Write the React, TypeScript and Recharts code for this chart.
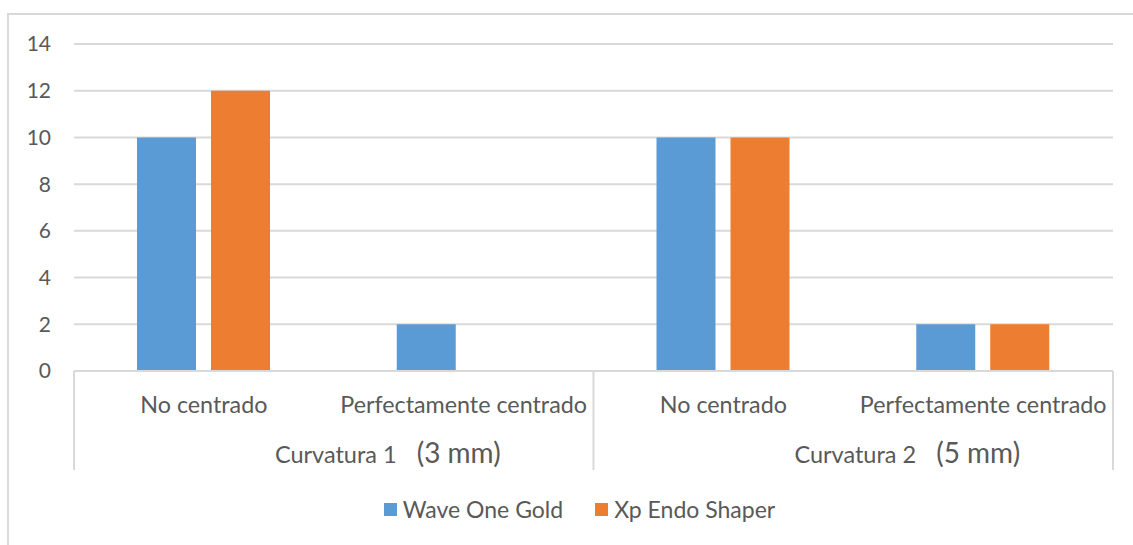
import React from 'react';
import { BarChart, Bar, XAxis, YAxis, CartesianGrid, Legend } from 'recharts';

const categories = ['No centrado', 'Perfectamente centrado', 'No centrado', 'Perfectamente centrado'];
const groupNames = ['Curvatura 1', 'Curvatura 2'];
const groupNotes = ['(3 mm)', '(5 mm)'];
const waveOneGold = [10, 2, 10, 2];
const xpEndoShaper = [12, 0, 10, 2];
const yTicks = [0, 2, 4, 6, 8, 10, 12, 14];

const seriesNames = ['Wave One Gold', 'Xp Endo Shaper'];
const COLORS = ['#5B9BD5', '#ED7D31'];

const W = 1133;
const H = 545;
const MARGIN = { top: 44, right: 20, left: 24, bottom: 21 };
const Y_WIDTH = 50;
const PLOT_W = W - MARGIN.left - MARGIN.right - Y_WIDTH;
const BAND = PLOT_W / categories.length;
const FONT = 'Lato, "Open Sans", sans-serif';
const TEXT = '#595959';
const GRID = '#d9d9d9';

const data = categories.map((c, i) => ({
  id: `c${i}`,
  cat: c,
  wave: waveOneGold[i],
  xp: xpEndoShaper[i],
}));

const CatTick = (props: any) => {
  const { x, y, index } = props;
  const g = Math.floor(index / 2);
  const first = index % 2 === 0;
  return (
    <g>
      <text x={x} y={y + 42} textAnchor="middle" fill={TEXT} fontSize={23.3} fontFamily={FONT}>
        {categories[index]}
      </text>
      {first && <line x1={x - BAND / 2} x2={x - BAND / 2} y1={y} y2={y + 99} stroke={GRID} strokeWidth={2} />}
      {index === categories.length - 1 && (
        <line x1={x + BAND / 2} x2={x + BAND / 2} y1={y} y2={y + 99} stroke={GRID} strokeWidth={2} />
      )}
      {first && (
        <text x={x + BAND / 2 + 54} y={y + 92} textAnchor="middle" fill={TEXT} fontFamily={FONT}>
          <tspan fontSize={23.5}>{groupNames[g]}</tspan>
          <tspan fontSize={28} dx={20}>{groupNotes[g]}</tspan>
        </text>
      )}
    </g>
  );
};

const LegendContent = () => (
  <div style={{ display: 'flex', justifyContent: 'center', alignItems: 'center', height: 30, paddingLeft: 26 }}>
    {seriesNames.map((n, i) => (
      <div key={n} style={{ display: 'flex', alignItems: 'center', marginRight: i === 0 ? 32 : 0 }}>
        <span style={{ width: 13, height: 13, background: COLORS[i], display: 'inline-block', marginRight: 6 }} />
        <span style={{ fontFamily: FONT, fontSize: 23, color: TEXT }}>{n}</span>
      </div>
    ))}
  </div>
);

export default function App() {
  return (
    <div style={{ position: 'absolute', left: 0, top: 0, width: W, height: H, background: '#fff', overflow: 'hidden' }}>
      <div
        style={{
          position: 'absolute',
          left: 7,
          top: 13,
          width: W + 20,
          height: H + 20,
          border: `2px solid ${GRID}`,
        }}
      />
      <div style={{ position: 'absolute', left: 0, top: 0 }}>
        <BarChart width={W} height={H} data={data} margin={MARGIN} barSize={59} barGap={15}>
          <CartesianGrid vertical={false} stroke={GRID} strokeWidth={2} />
          <XAxis
            dataKey="id"
            height={123}
            tick={<CatTick />}
            tickLine={false}
            tickSize={0}
            tickMargin={0}
            axisLine={{ stroke: GRID, strokeWidth: 2 }}
            interval={0}
          />
          <YAxis
            width={Y_WIDTH}
            domain={[0, 14]}
            ticks={yTicks}
            axisLine={false}
            tickLine={false}
            tickSize={0}
            tickMargin={23}
            tick={{ fill: TEXT, fontSize: 21, fontFamily: FONT }}
          />
          <Legend verticalAlign="bottom" content={<LegendContent />} wrapperStyle={{ left: 0, width: W }} />
          <Bar dataKey="wave" name={seriesNames[0]} fill={COLORS[0]} isAnimationActive={false} />
          <Bar dataKey="xp" name={seriesNames[1]} fill={COLORS[1]} isAnimationActive={false} />
        </BarChart>
      </div>
    </div>
  );
}
